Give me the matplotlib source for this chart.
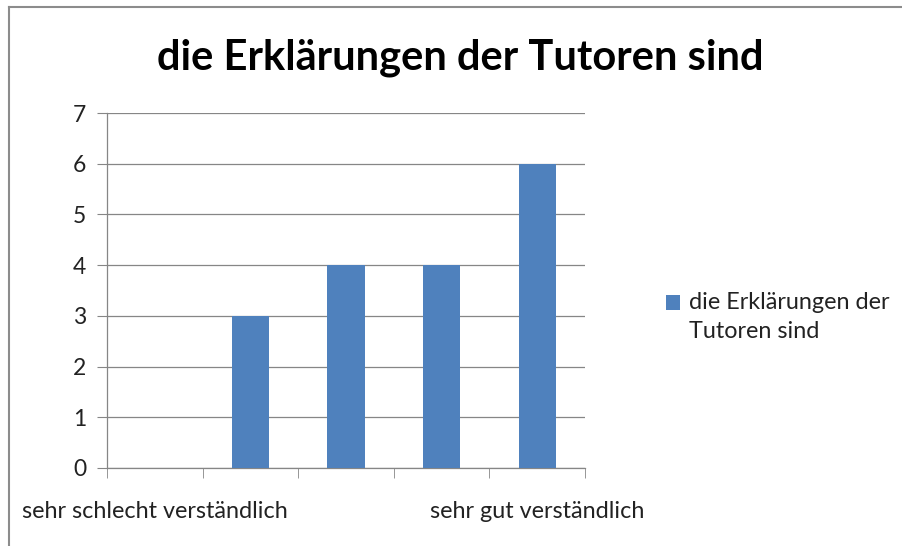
import numpy as np
import matplotlib.pyplot as plt
from matplotlib.lines import Line2D
from matplotlib.patches import Rectangle
from matplotlib.legend_handler import HandlerPatch
from matplotlib.container import BarContainer

plt.rcParams['font.family'] = ['Lato', 'DejaVu Sans']

categories = ['sehr schlecht verständlich', '', '', '', 'sehr gut verständlich']
values = [0, 3, 4, 4, 6]
series_name = 'die Erklärungen der\nTutoren sind'
title = 'die Erklärungen der Tutoren sind'

fig = plt.figure(figsize=(9.02, 5.46), dpi=100)
ax = fig.add_axes([0.1186, 0.1429, 0.53, 0.6501])

x = np.arange(len(categories))
bars = ax.bar(x, values, width=0.39, color='#4F81BD', label=series_name, zorder=3)

ax.set_xlim(-0.5, len(categories) - 0.5)
ax.set_ylim(0, 7)
ax.set_yticks(range(0, 8))
ax.tick_params(axis='y', labelsize=16.5, length=7, color='#868686', pad=8, labelcolor='#222222')
ax.yaxis.grid(True, color='#868686', linewidth=0.9, zorder=0)

ax.set_xticks(x)
ax.set_xticklabels(categories)
ax.tick_params(axis='x', length=0, pad=24, labelsize=16.8, labelcolor='#222222')
ax.set_xticks(np.arange(-0.5, len(categories)), minor=True)
ax.tick_params(axis='x', which='minor', length=7, color='#868686')

for side in ['top', 'right']:
    ax.spines[side].set_visible(False)
for side in ['left', 'bottom']:
    ax.spines[side].set_color('#868686')
    ax.spines[side].set_linewidth(0.9)

fig.text(0.51, 0.895, title, ha='center', va='center', fontsize=30, fontweight='bold')


# legend square sits next to the first line of the label, like Excel does
def top_square(legend, orig_handle, xdescent, ydescent, width, height, fontsize):
    return Rectangle((-xdescent, -ydescent + 0.62 * fontsize), width, height)


square_handler = HandlerPatch(patch_func=top_square,
                              update_func=lambda h, o: h.update_from(o.patches[0]))

leg = ax.legend(loc='center left', bbox_to_anchor=(0.715, 0.42), bbox_transform=fig.transFigure,
                frameon=False, fontsize=16.8, handlelength=0.6, handleheight=0.6, handletextpad=0.4,
                labelcolor='#222222', handler_map={BarContainer: square_handler})
for t in leg.get_texts():
    t.set_linespacing(1.45)

# chart border (top and left edges visible)
fig.add_artist(Line2D([9 / 902, 9 / 902], [0, 1 - 7 / 546], transform=fig.transFigure, color='#8c8c8c', linewidth=1.5))
fig.add_artist(Line2D([9 / 902, 1], [1 - 7 / 546, 1 - 7 / 546], transform=fig.transFigure, color='#8c8c8c', linewidth=1.5))

fig.savefig('out.png', dpi=100)
